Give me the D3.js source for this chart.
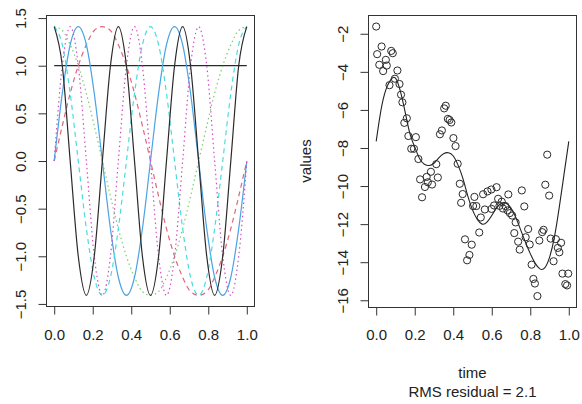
<!DOCTYPE html>
<html>
<head>
<meta charset="utf-8">
<script src="https://cdn.jsdelivr.net/npm/d3@7"></script>
<style>
    body {margin: 0; background: #fff;}
    svg {display: block;}
    text {font-family: "Liberation Sans", Arial, sans-serif; font-size: 15px; fill: #222;}
</style>
</head>
<body>
<div id="chart"></div>
<script>
// ---- left panel: fourier basis functions ----
const basisTime = [0, 0.042, 0.083, 0.125, 0.167, 0.208, 0.25, 0.292, 0.333, 0.375, 0.417, 0.458, 0.5,
    0.542, 0.583, 0.625, 0.667, 0.708, 0.75, 0.792, 0.833, 0.875, 0.917, 0.958, 1];
const constBasis = [1, 1, 1, 1, 1, 1, 1, 1, 1, 1, 1, 1, 1, 1, 1, 1, 1, 1, 1, 1, 1, 1, 1, 1, 1];
const sin1 = [0, 0.37, 0.71, 1.00, 1.22, 1.37, 1.41, 1.37, 1.22, 1.00, 0.71, 0.37, 0,
    -0.37, -0.71, -1.00, -1.22, -1.37, -1.41, -1.37, -1.22, -1.00, -0.71, -0.37, 0];
const cos1 = [1.41, 1.37, 1.22, 1.00, 0.71, 0.37, 0, -0.37, -0.71, -1.00, -1.22, -1.37, -1.41,
    -1.37, -1.22, -1.00, -0.71, -0.37, 0, 0.37, 0.71, 1.00, 1.22, 1.37, 1.41];
const sin2 = [0, 0.71, 1.22, 1.41, 1.22, 0.71, 0, -0.71, -1.22, -1.41, -1.22, -0.71, 0,
    0.71, 1.22, 1.41, 1.22, 0.71, 0, -0.71, -1.22, -1.41, -1.22, -0.71, 0];
const cos2 = [1.41, 1.22, 0.71, 0, -0.71, -1.22, -1.41, -1.22, -0.71, 0, 0.71, 1.22, 1.41,
    1.22, 0.71, 0, -0.71, -1.22, -1.41, -1.22, -0.71, 0, 0.71, 1.22, 1.41];
const sin3 = [0, 1.00, 1.41, 1.00, 0, -1.00, -1.41, -1.00, 0, 1.00, 1.41, 1.00, 0,
    -1.00, -1.41, -1.00, 0, 1.00, 1.41, 1.00, 0, -1.00, -1.41, -1.00, 0];
const cos3 = [1.41, 1.00, 0, -1.00, -1.41, -1.00, 0, 1.00, 1.41, 1.00, 0, -1.00, -1.41,
    -1.00, 0, 1.00, 1.41, 1.00, 0, -1.00, -1.41, -1.00, 0, 1.00, 1.41];

const basisXTicks = [0, 0.2, 0.4, 0.6, 0.8, 1.0];
const basisYTicks = [-1.5, -1.0, -0.5, 0.0, 0.5, 1.0, 1.5];

// ---- right panel: observations and smooth fit ----
const obsTime = [
    0.000, 0.005, 0.016, 0.028, 0.036, 0.050, 0.055, 0.069, 0.078, 0.086,
    0.097, 0.110, 0.121, 0.129, 0.136, 0.146, 0.159, 0.167, 0.182, 0.196,
    0.206, 0.219, 0.228, 0.238, 0.253, 0.262, 0.268, 0.284, 0.290, 0.312,
    0.320, 0.331, 0.341, 0.353, 0.361, 0.372, 0.381, 0.390, 0.401, 0.412,
    0.423, 0.434, 0.441, 0.449, 0.461, 0.472, 0.484, 0.496, 0.503, 0.510,
    0.520, 0.535, 0.543, 0.555, 0.564, 0.578, 0.598, 0.599, 0.612, 0.625,
    0.633, 0.640, 0.652, 0.658, 0.671, 0.682, 0.686, 0.694, 0.706, 0.717,
    0.724, 0.737, 0.745, 0.756, 0.769, 0.776, 0.789, 0.797, 0.807, 0.816,
    0.824, 0.837, 0.847, 0.862, 0.869, 0.878, 0.888, 0.898, 0.906, 0.921,
    0.933, 0.943, 0.951, 0.960, 0.967, 0.982, 0.991, 0.997];
const obsValues = [
    -1.62, -3.07, -3.63, -2.67, -3.96, -3.37, -3.67, -4.70, -2.90, -3.02,
    -4.36, -3.93, -4.64, -5.20, -5.60, -6.68, -6.44, -7.37, -8.04, -8.04,
    -7.43, -8.58, -9.65, -10.59, -10.05, -9.52, -9.80, -9.25, -9.92, -8.85,
    -9.55, -7.28, -7.08, -5.92, -5.78, -6.47, -6.53, -6.66, -7.48, -7.90,
    -8.83, -9.88, -10.88, -10.42, -12.80, -13.90, -13.62, -13.08, -11.05, -10.57,
    -11.05, -12.44, -11.65, -10.43, -11.23, -10.28, -10.18, -11.20, -11.02, -10.06,
    -10.67, -11.04, -10.82, -11.18, -11.05, -11.28, -10.44, -11.42, -11.55, -12.47,
    -11.91, -12.92, -13.34, -10.23, -11.07, -12.69, -12.26, -13.07, -14.13, -14.88,
    -15.12, -15.78, -12.86, -12.42, -12.30, -9.93, -8.35, -10.50, -12.76, -13.95,
    -12.79, -13.25, -13.48, -12.98, -14.60, -15.15, -15.22, -14.60];

const fitTime = [0, 0.025, 0.05, 0.075, 0.1, 0.125, 0.15, 0.175, 0.2, 0.225, 0.25, 0.275, 0.3, 0.325,
    0.35, 0.375, 0.4, 0.425, 0.45, 0.475, 0.5, 0.525, 0.55, 0.575, 0.6, 0.625, 0.65, 0.675,
    0.7, 0.725, 0.75, 0.775, 0.8, 0.825, 0.85, 0.875, 0.9, 0.925, 0.95, 0.975, 1];
const fitValues = [-7.65, -6.00, -4.95, -4.42, -4.33, -5.00, -6.10, -7.25, -7.95, -8.55, -8.85, -8.92, -8.80, -8.52,
    -8.30, -8.25, -8.42, -8.90, -9.60, -10.50, -11.25, -11.75, -12.00, -11.90, -11.55, -11.15, -10.90, -10.90,
    -11.15, -11.65, -12.30, -12.95, -13.55, -14.05, -14.35, -14.30, -13.75, -12.70, -11.15, -9.40, -7.65];

const smoothXTicks = [0, 0.2, 0.4, 0.6, 0.8, 1.0];
const smoothYTicks = [-16, -14, -12, -10, -8, -6, -4, -2];
const rmsLabel = "RMS residual = 2.1";

// styles for the basis curves, drawn in order (R palette, lty 1:3, a bit soft like the original)
const basisColors = ["#2a2a2a", "#E0677B", "#78CF68", "#4AA3E2", "#48DCDF", "#D04FC3", "#2a2a2a"];
const basisDashes = [null, "5,4", "1.5,3", null, "5,4", "1.5,3", null];

let svg = d3.select("#chart").append("svg")
    .attr("width", 582)
    .attr("height", 404);

// draws box, axes and rotated y tick labels in the R base style
function drawFrame(x, y, xTicks, yTicks, yFmt) {
    let [x0, x1] = x.range();
    let [y1, y0] = y.range();

    let xAxis = svg.append("g")
        .attr("class", "axis axis-x")
        .attr("transform", `translate(0, ${y1})`)
        .call(d3.axisBottom(x).tickValues(xTicks).tickFormat(d3.format(".1f")).tickSize(8).tickSizeOuter(0));
    xAxis.select(".domain").remove();
    xAxis.selectAll("line").attr("stroke", "#333");
    xAxis.selectAll("text")
        .attr("y", 329.5 - y1)
        .attr("dy", "0.71em")
        .style("font-size", "15px")
        .style("font-family", null)
        .attr("fill", "#222");

    let yAxis = svg.append("g")
        .attr("class", "axis axis-y")
        .attr("transform", `translate(${x0}, 0)`)
        .call(d3.axisLeft(y).tickValues(yTicks).tickFormat(yFmt).tickSize(8).tickSizeOuter(0));
    yAxis.select(".domain").remove();
    yAxis.selectAll("line").attr("stroke", "#333");
    yAxis.selectAll("text")
        .attr("x", 0)
        .attr("dy", "0.35em")
        .attr("text-anchor", "middle")
        .attr("transform", "translate(-26, 0) rotate(-90)")
        .style("font-size", "15px")
        .style("font-family", null)
        .attr("fill", "#222");

    svg.append("rect")
        .attr("x", x0)
        .attr("y", y0)
        .attr("width", x1 - x0)
        .attr("height", y1 - y0)
        .attr("fill", "none")
        .attr("stroke", "#333")
        .attr("stroke-width", 1);
}

// ---- left panel ----
let xL = d3.scaleLinear().domain([-0.04, 1.04]).range([46.5, 254.5]);
let yL = d3.scaleLinear().domain([-1.527, 1.527]).range([306.5, 15.5]);

let basisSeries = [constBasis, sin1, cos1, sin2, cos2, sin3, cos3];
let basisLine = d3.line()
    .x((d, i) => xL(basisTime[i]))
    .y(d => yL(d))
    .curve(d3.curveMonotoneX);

svg.append("g")
    .attr("class", "basis-lines")
    .selectAll("path")
    .data(basisSeries)
    .enter()
    .append("path")
    .attr("d", d => basisLine(d))
    .attr("fill", "none")
    .attr("stroke", (d, i) => basisColors[i])
    .attr("stroke-width", 1.2)
    .attr("stroke-dasharray", (d, i) => basisDashes[i]);

drawFrame(xL, yL, basisXTicks, basisYTicks, d3.format(".1f"));

// ---- right panel ----
let xR = d3.scaleLinear().domain([-0.04, 1.04]).range([368.5, 576.5]);
let yR = d3.scaleLinear().domain([-16.38, -1.04]).range([307.5, 15.5]);

let fitLine = d3.line()
    .x((d, i) => xR(fitTime[i]))
    .y(d => yR(d))
    .curve(d3.curveNatural);

svg.append("path")
    .attr("class", "fit-line")
    .attr("d", fitLine(fitValues))
    .attr("fill", "none")
    .attr("stroke", "#222")
    .attr("stroke-width", 1.1);

svg.append("g")
    .attr("class", "points")
    .selectAll("circle")
    .data(obsValues)
    .enter()
    .append("circle")
    .attr("cx", (d, i) => xR(obsTime[i]))
    .attr("cy", d => yR(d))
    .attr("r", 3.6)
    .attr("fill", "none")
    .attr("stroke", "#2a2a2a")
    .attr("stroke-width", 1);

drawFrame(xR, yR, smoothXTicks, smoothYTicks, d3.format("d"));

// axis titles
svg.append("text")
    .attr("class", "y-axis-label")
    .attr("transform", "translate(306, 161) rotate(-90)")
    .attr("dy", "0.35em")
    .attr("text-anchor", "middle")
    .text("values");

svg.append("text")
    .attr("class", "x-axis-label")
    .attr("x", 472.5)
    .attr("y", 378)
    .attr("text-anchor", "middle")
    .text("time");

svg.append("text")
    .attr("class", "x-axis-label")
    .attr("x", 472.5)
    .attr("y", 397)
    .attr("text-anchor", "middle")
    .text(rmsLabel);
</script>
</body>
</html>
